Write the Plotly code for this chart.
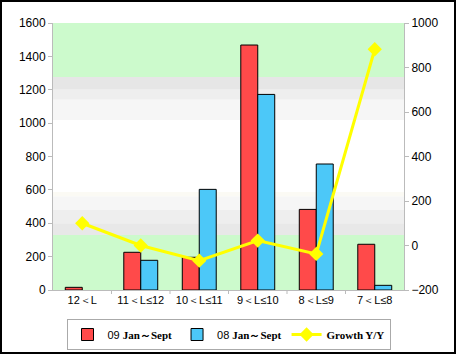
import plotly.graph_objects as go

categories = ["12＜L", "11＜L≤12", "10＜L≤11", "9＜L≤10", "8＜L≤9", "7＜L≤8"]
sales_09 = [16, 226, 196, 1468, 483, 274]
sales_08 = [None, 178, 603, 1172, 755, 28]
growth = [100, 0, -68, 22, -38, 882]

name_09 = "09 <span style='font-family:Times New Roman, Liberation Serif;font-weight:bold'>Jan～Sept</span>"
name_08 = "08 <span style='font-family:Times New Roman, Liberation Serif;font-weight:bold'>Jan～Sept</span>"
name_g = "<span style='font-family:Times New Roman, Liberation Serif;font-weight:bold'>Growth Y/Y</span>"

fig = go.Figure()
fig.add_trace(go.Bar(x=categories, y=sales_09, name=name_09,
                     marker=dict(color="#FF4A4A", line=dict(color="black", width=1))))
fig.add_trace(go.Bar(x=categories, y=sales_08, name=name_08,
                     marker=dict(color="#4CC8F8", line=dict(color="black", width=1))))
fig.add_trace(go.Scatter(x=categories, y=growth, name=name_g, yaxis="y2", mode="lines+markers",
                         line=dict(color="#FFFF00", width=3),
                         marker=dict(symbol="diamond", size=11, color="#FFFF00")))

# background bands (left-axis units)
bands = [
    (1276, 1600, "#CCFACC"),
    (1200, 1276, "#E6E6E6"),
    (1140, 1200, "#EEEEEE"),
    (1018, 1140, "#F6F6F6"),
    (560, 587, "#FBFAF4"),
    (480, 560, "#F6F6F6"),
    (400, 480, "#EEEEEE"),
    (330, 400, "#E8E8E8"),
    (0, 330, "#CCFACC"),
]
shapes = []
for y0, y1, c in bands:
    shapes.append(dict(type="rect", xref="paper", yref="y", x0=0, x1=1, y0=y0, y1=y1,
                       fillcolor=c, line=dict(width=0), layer="below"))

L, R, T, B = 53, 52, 23, 64
pw, ph = 456 - L - R, 354 - T - B
bottom_px = 354 - B


def px_x(p):
    return (p - L) / pw


def px_y(p):
    return (bottom_px - p) / ph


# outer frame
shapes.append(dict(type="rect", xref="paper", yref="paper",
                   x0=px_x(1), x1=px_x(455), y0=px_y(353), y1=px_y(1),
                   line=dict(color="black", width=2), fillcolor="rgba(0,0,0,0)"))
# category separator ticks on x axis
for i in range(1, 6):
    shapes.append(dict(type="line", xref="x", yref="paper", x0=i - 0.5, x1=i - 0.5,
                       y0=0, y1=px_y(294), line=dict(color="#BBBBBB", width=1)))
fig.update_layout(shapes=shapes)

fig.update_layout(
    width=456, height=354,
    margin=dict(l=L, r=R, t=T, b=B, autoexpand=False),
    paper_bgcolor="white", plot_bgcolor="white",
    barmode="group", bargap=0.42, bargroupgap=0,
    font=dict(family="Arial, Liberation Sans", size=11, color="black"),
    xaxis=dict(showgrid=False, showline=True, linecolor="#BBBBBB", ticks="",
               tickfont=dict(size=11), range=[-0.5, 5.5]),
    yaxis=dict(range=[0, 1600], dtick=200, showgrid=False, showline=True, linecolor="#BBBBBB",
               ticks="outside", ticklen=4, tickcolor="#BBBBBB", zeroline=False,
               tickfont=dict(size=12)),
    yaxis2=dict(range=[-200, 1000], dtick=200, overlaying="y", side="right", showgrid=False,
                showline=True, linecolor="#BBBBBB", ticks="outside", ticklen=4,
                tickcolor="#BBBBBB", zeroline=False, tickfont=dict(size=12)),
    legend=dict(orientation="h", x=0.5, xanchor="center", y=px_y(319), yanchor="top",
                bordercolor="#AAAAAA", borderwidth=1, font=dict(size=11),
                bgcolor="rgba(255,255,255,0)",
                itemwidth=30, tracegroupgap=0),
    showlegend=True,
)
fig.write_html("out.html")
